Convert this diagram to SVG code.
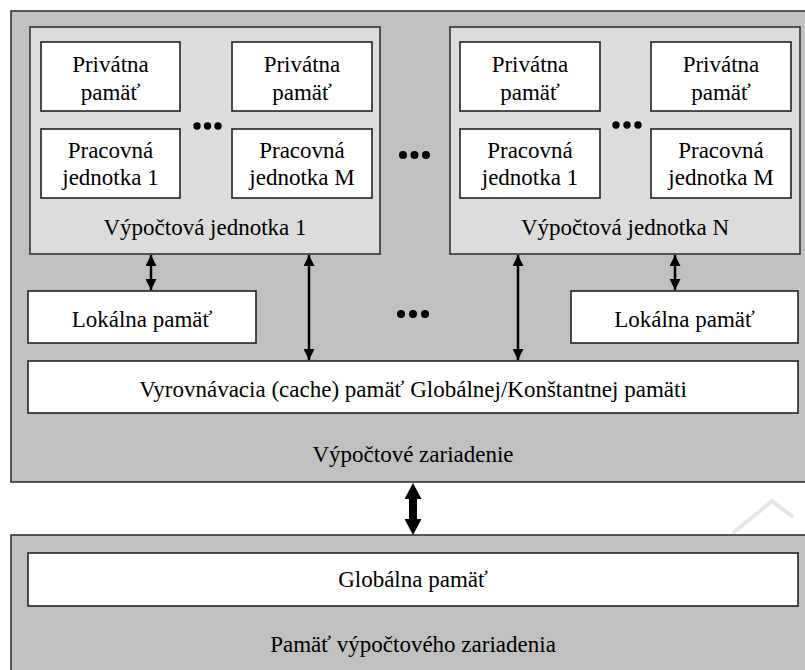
<svg xmlns="http://www.w3.org/2000/svg" width="805" height="670" viewBox="0 0 805 670">
<style>
  text{font-family:"Liberation Serif","DejaVu Serif","Times New Roman",serif;font-size:23px;fill:#000;text-anchor:middle}
  .outer{fill:#c0c0c0;stroke:#333;stroke-width:1.6}
  .unit{fill:#dcdcdc;stroke:#333;stroke-width:1.6}
  .box{fill:#fff;stroke:#222;stroke-width:1.6}
  .conn{stroke:#000;stroke-width:2.5;fill:none}
  .dot{fill:#000}
</style>
<defs>
  <marker id="ah" viewBox="0 0 10 10" refX="10" refY="5" markerWidth="4.4" markerHeight="4.4" markerUnits="strokeWidth" orient="auto-start-reverse">
    <path d="M0,0 L10,5 L0,10 z" fill="#000"/>
  </marker>
</defs>
<rect width="805" height="670" fill="#fff"/>
<path d="M733,533 L772,501 L793,517" fill="none" stroke="#e6e6e6" stroke-width="4"/>

<g id="device">
  <rect class="outer" x="11" y="11" width="796" height="471"/>
  <text x="413" y="462">Výpočtové zariadenie</text>
</g>

<g id="unit1">
  <rect class="unit" x="30" y="27" width="350" height="227"/>
  <text x="205" y="235">Výpočtová jednotka 1</text>
</g>
<g id="u1-priv1">
  <rect class="box" x="41" y="42" width="139" height="69"/>
  <text x="110.5" y="72">Privátna</text>
  <text x="110.5" y="100">pamäť</text>
</g>
<g id="u1-priv2">
  <rect class="box" x="232" y="42" width="140" height="69"/>
  <text x="302" y="72">Privátna</text>
  <text x="302" y="100">pamäť</text>
</g>
<g id="u1-pe1">
  <rect class="box" x="41" y="129" width="139" height="69"/>
  <text x="110.5" y="158">Pracovná</text>
  <text x="110.5" y="185">jednotka 1</text>
</g>
<g id="u1-peM">
  <rect class="box" x="232" y="129" width="140" height="69"/>
  <text x="302" y="158">Pracovná</text>
  <text x="302" y="185">jednotka M</text>
</g>
<g id="u1-dots">
  <circle class="dot" cx="197" cy="126" r="3.7"/>
  <circle class="dot" cx="207.5" cy="126" r="3.7"/>
  <circle class="dot" cx="218" cy="126" r="3.7"/>
</g>

<g id="unitN">
  <rect class="unit" x="450" y="27" width="350" height="227"/>
  <text x="625" y="235">Výpočtová jednotka N</text>
</g>
<g id="uN-priv1">
  <rect class="box" x="460" y="42" width="140" height="69"/>
  <text x="530" y="72">Privátna</text>
  <text x="530" y="100">pamäť</text>
</g>
<g id="uN-priv2">
  <rect class="box" x="651" y="42" width="140" height="69"/>
  <text x="721" y="72">Privátna</text>
  <text x="721" y="100">pamäť</text>
</g>
<g id="uN-pe1">
  <rect class="box" x="460" y="129" width="140" height="69"/>
  <text x="530" y="158">Pracovná</text>
  <text x="530" y="185">jednotka 1</text>
</g>
<g id="uN-peM">
  <rect class="box" x="651" y="129" width="140" height="69"/>
  <text x="721" y="158">Pracovná</text>
  <text x="721" y="185">jednotka M</text>
</g>
<g id="uN-dots">
  <circle class="dot" cx="616" cy="125" r="3.7"/>
  <circle class="dot" cx="627" cy="125" r="3.7"/>
  <circle class="dot" cx="638" cy="125" r="3.7"/>
</g>

<g id="mid-dots">
  <circle class="dot" cx="403" cy="155" r="4"/>
  <circle class="dot" cx="414.5" cy="155" r="4"/>
  <circle class="dot" cx="426" cy="155" r="4"/>
  <circle class="dot" cx="401" cy="314" r="4"/>
  <circle class="dot" cx="413" cy="314" r="4"/>
  <circle class="dot" cx="425" cy="314" r="4"/>
</g>

<g id="local1">
  <rect class="box" x="28" y="291" width="228" height="52"/>
  <text x="142" y="327">Lokálna pamäť</text>
</g>
<g id="localN">
  <rect class="box" x="571" y="291" width="227" height="52"/>
  <text x="684.5" y="327">Lokálna pamäť</text>
</g>
<g id="cache">
  <rect class="box" x="28" y="361" width="770" height="52"/>
  <text x="413" y="397">Vyrovnávacia (cache) pamäť Globálnej/Konštantnej pamäti</text>
</g>

<g id="devmem">
  <rect class="outer" x="11" y="535" width="796" height="140"/>
  <text x="413" y="652">Pamäť výpočtového zariadenia</text>
</g>
<g id="global">
  <rect class="box" x="28" y="553" width="770" height="53"/>
  <text x="413" y="587">Globálna pamäť</text>
</g>

<g id="connectors">
  <line class="conn" x1="151" y1="255" x2="151" y2="290" marker-start="url(#ah)" marker-end="url(#ah)"/>
  <line class="conn" x1="309" y1="255" x2="309" y2="360" marker-start="url(#ah)" marker-end="url(#ah)"/>
  <line class="conn" x1="518" y1="255" x2="518" y2="360" marker-start="url(#ah)" marker-end="url(#ah)"/>
  <line class="conn" x1="675" y1="255" x2="675" y2="290" marker-start="url(#ah)" marker-end="url(#ah)"/>
  <path d="M413,483 L421.5,499 L417,499 L417,519 L421.5,519 L413,535 L404.5,519 L409,519 L409,499 L404.5,499 z" fill="#000"/>
</g>
</svg>
